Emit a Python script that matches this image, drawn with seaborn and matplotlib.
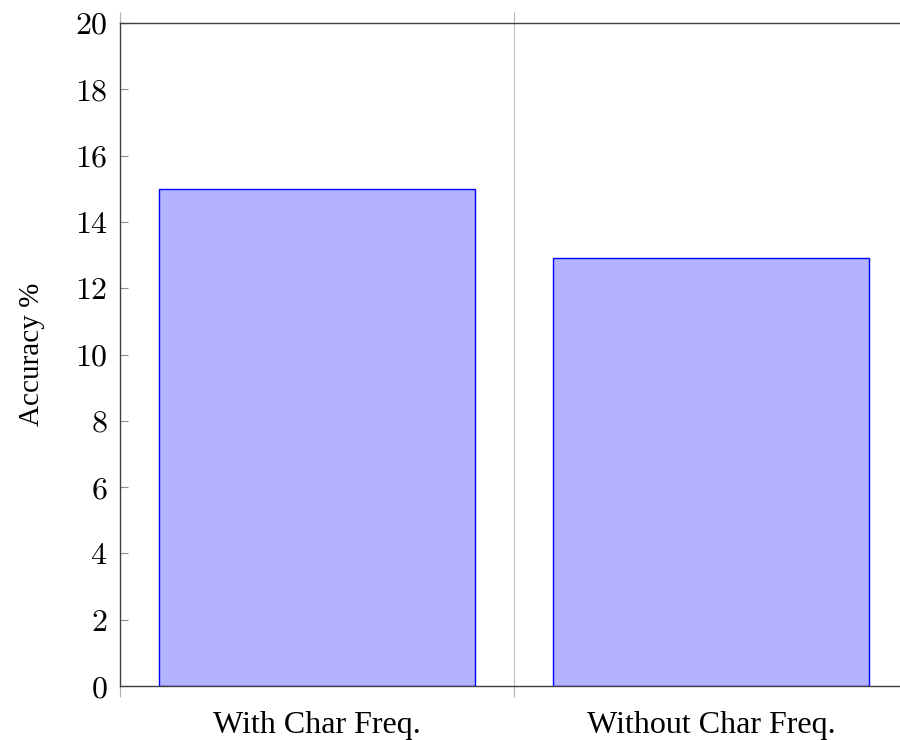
import matplotlib
matplotlib.use("Agg")
import matplotlib.pyplot as plt
import seaborn as sns
import pandas as pd

# Daten
categories = ["With Char Freq.", "Without Char Freq."]
accuracy = [15.0, 12.9]
y_ticks = [0, 2, 4, 6, 8, 10, 12, 14, 16, 18, 20]

df = pd.DataFrame({"setting": categories, "accuracy": accuracy})

sns.set_style("white")
plt.rcParams["font.family"] = ["Liberation Serif", "DejaVu Serif"]
plt.rcParams["mathtext.fontset"] = "cm"
plt.rcParams["text.color"] = "black"
plt.rcParams["axes.labelcolor"] = "black"
plt.rcParams["xtick.labelcolor"] = "black"
plt.rcParams["ytick.labelcolor"] = "black"

fig = plt.figure(figsize=(9, 7.4), dpi=100)
ax = fig.add_axes([120 / 900, 1 - 686 / 740, 788 / 900, 663 / 740])

sns.barplot(
    data=df, x="setting", y="accuracy", order=categories, ax=ax,
    color=(0.7, 0.7, 1.0), saturation=1, width=0.8,
    edgecolor="blue", linewidth=1.0,
)

ax.set_xlim(-0.5, 1.5)
ax.set_ylim(0, 20)
ax.set_yticks(y_ticks)
ax.set_yticklabels([f"${t}$" for t in y_ticks], fontsize=23)
ax.set_xticks(range(len(categories)))
ax.set_xticklabels(categories, fontsize=23)
ax.set_xlabel("")
ax.set_ylabel("Accuracy %", fontsize=21, labelpad=21)

# Rahmen wie pgfplots
for side in ["left", "right", "top", "bottom"]:
    ax.spines[side].set_visible(True)
    ax.spines[side].set_color("0.25")
    ax.spines[side].set_linewidth(1.0)

ax.tick_params(axis="y", which="major", direction="in", length=6, width=0.8,
               color="0.55", left=True, right=True, pad=9)
ax.tick_params(axis="x", which="major", length=0, pad=18)

# Trennlinien zwischen den Kategorien
ax.set_xticks([-0.5, 0.5, 1.5], minor=True)
ax.tick_params(axis="x", which="minor", direction="out", length=8, width=0.8,
               color="0.7", bottom=True, top=True)
ax.grid(True, axis="x", which="minor", color="0.75", linewidth=0.8)
ax.grid(False, axis="y")
ax.set_axisbelow(True)

fig.savefig("out.png", dpi=100)
